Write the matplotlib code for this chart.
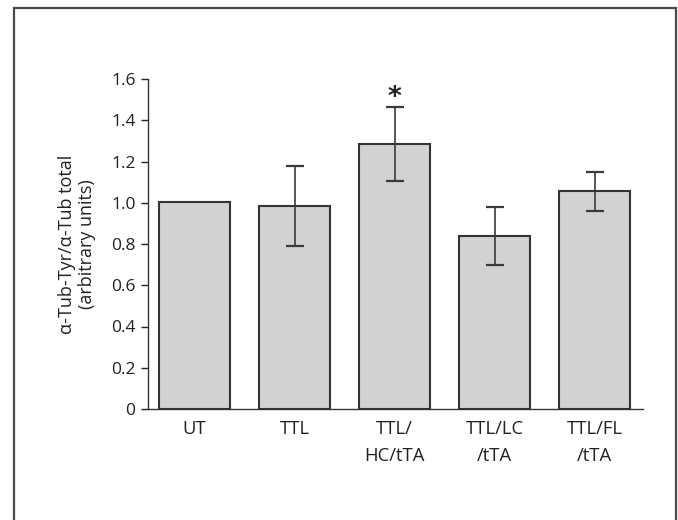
import matplotlib
matplotlib.use("Agg")
import matplotlib.pyplot as plt

plt.rcParams['font.family'] = ['Open Sans', 'DejaVu Sans']

# data
groups = ["UT", "TTL", "TTL/\nHC/tTA", "TTL/LC\n/tTA", "TTL/FL\n/tTA"]
means = [1.005, 0.985, 1.285, 0.84, 1.055]
errors = [0.0, 0.195, 0.18, 0.14, 0.095]
yticks = [0, 0.2, 0.4, 0.6, 0.8, 1.0, 1.2, 1.4, 1.6]
ytick_labels = ["0", "0.2", "0.4", "0.6", "0.8", "1.0", "1.2", "1.4", "1.6"]
star_group = 2

fig = plt.figure(figsize=(6.78, 5.2), dpi=100)

# outer frame (open at the bottom, as in the reference crop)
W, H = 678, 520
frame_x = [13.5 / W, 13.5 / W, 675.5 / W, 675.5 / W]
frame_y = [-0.01, 1 - 7.5 / H, 1 - 7.5 / H, -0.01]
fig.add_artist(plt.Line2D(frame_x, frame_y, transform=fig.transFigure,
                          color="#4a4a4a", lw=1.6, solid_joinstyle="miter"))

ax = fig.add_axes([148 / W, 1 - 409 / H, (643 - 148) / W, (409 - 79) / H])

x = list(range(len(groups)))
ax.bar(x, means, width=0.71, color="#d1d2d4", edgecolor="#333333",
       linewidth=1.5, zorder=2)
ax.errorbar(x[1:], means[1:], yerr=errors[1:], fmt="none", ecolor="#3a3a3a",
            elinewidth=1.2, capsize=6.5, capthick=1.6, zorder=3)

ax.text(star_group, means[star_group] + errors[star_group] - 0.02, "*",
        ha="center", va="bottom", fontsize=19, fontweight="bold",
        color="#222222", family="DejaVu Sans")

ax.set_xlim(-0.465, 4.485)
ax.set_ylim(0, 1.6)
ax.set_yticks(yticks)
ax.set_yticklabels(ytick_labels)
ax.set_xticks(x)
ax.set_xticklabels(groups, linespacing=1.6)
ax.tick_params(axis="x", length=0, pad=8, labelsize=13.3, colors="#222222")
ax.tick_params(axis="y", direction="out", length=5, width=1, pad=4,
               labelsize=12.5, colors="#222222")

ax.set_ylabel("α-Tub-Tyr/α-Tub total\n(arbitrary units)", fontsize=13,
              color="#222222", labelpad=11, linespacing=1.15)

for s in ["top", "right"]:
    ax.spines[s].set_visible(False)
for s in ["left", "bottom"]:
    ax.spines[s].set_color("#333333")
    ax.spines[s].set_linewidth(1.0)

fig.savefig("out.png", dpi=100)
